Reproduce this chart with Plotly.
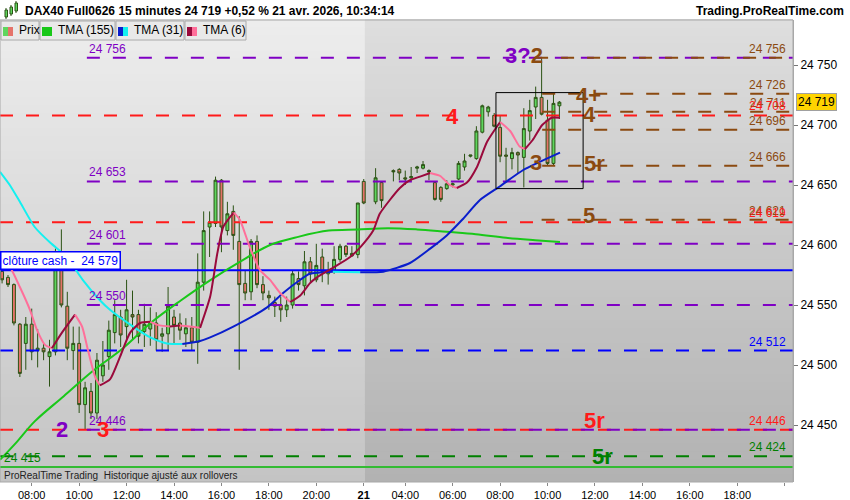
import plotly.graph_objects as go

# bar index: 0 = 20 avr. 08:00, one step = 15 min, 56 = first bar of the 21st
bar_idx = list(range(-5, 57)) + [58, 59] + list(range(61, 90))
opens = [24578, 24573, 24567, 24534, 24518, 24534, 24512, 24514, 24507, 24511,
         24593, 24549, 24512, 24518, 24467, 24478, 24460, 24491, 24507, 24527,
         24540, 24532, 24542, 24542, 24528, 24530, 24535, 24524, 24526, 24540,
         24535, 24526, 24531, 24519, 24569, 24615, 24618, 24654, 24612, 24628,
         24603, 24568, 24561, 24603, 24567, 24558, 24552, 24550, 24546, 24550,
         24572, 24566, 24586, 24571, 24590, 24576, 24579, 24588, 24599, 24591,
         24592, 24653, 24636, 24652, 24662, 24663, 24656, 24656, 24664, 24664,
         24662, 24652, 24648, 24647, 24650, 24655, 24665, 24674, 24672, 24694,
         24711, 24708, 24698, 24675, 24672, 24677, 24673, 24695, 24715, 24723,
         24704, 24668, 24716]
highs = [24584, 24575, 24568, 24535, 24540, 24547, 24530, 24518, 24521, 24597,
         24613, 24561, 24532, 24532, 24486, 24485, 24510, 24520, 24537, 24554,
         24546, 24571, 24562, 24546, 24551, 24548, 24544, 24531, 24565, 24546,
         24543, 24539, 24540, 24593, 24628, 24628, 24657, 24655, 24636, 24633,
         24624, 24579, 24605, 24608, 24574, 24562, 24557, 24557, 24557, 24579,
         24578, 24595, 24590, 24601, 24597, 24586, 24599, 24601, 24600, 24599,
         24635, 24655, 24664, 24653, 24663, 24664, 24662, 24665, 24666, 24670,
         24663, 24653, 24649, 24654, 24652, 24670, 24676, 24675, 24699, 24717,
         24716, 24710, 24708, 24681, 24681, 24678, 24714, 24721, 24732, 24756,
         24721, 24726, 24720]
lows = [24568, 24565, 24533, 24490, 24496, 24504, 24498, 24504, 24482, 24508,
        24548, 24504, 24496, 24460, 24446, 24455, 24455, 24486, 24496, 24518,
        24515, 24521, 24521, 24518, 24515, 24516, 24512, 24511, 24512, 24518,
        24521, 24515, 24512, 24501, 24562, 24590, 24615, 24594, 24608, 24596,
        24496, 24554, 24554, 24564, 24554, 24546, 24540, 24536, 24540, 24547,
        24562, 24558, 24569, 24569, 24569, 24567, 24576, 24586, 24590, 24590,
        24589, 24634, 24634, 24631, 24653, 24654, 24650, 24653, 24660, 24663,
        24654, 24637, 24636, 24646, 24648, 24654, 24662, 24673, 24671, 24693,
        24707, 24698, 24669, 24652, 24663, 24660, 24648, 24687, 24705, 24708,
        24666, 24666, 24705]
closes = [24571, 24567, 24535, 24493, 24534, 24511, 24514, 24511, 24511, 24593,
          24550, 24514, 24518, 24467, 24481, 24460, 24504, 24500, 24529, 24542,
          24525, 24546, 24540, 24524, 24534, 24535, 24521, 24526, 24549, 24533,
          24529, 24531, 24519, 24569, 24612, 24619, 24654, 24615, 24626, 24608,
          24567, 24560, 24603, 24567, 24560, 24556, 24549, 24546, 24550, 24576,
          24567, 24586, 24576, 24583, 24578, 24578, 24588, 24599, 24592, 24593,
          24635, 24635, 24656, 24637, 24661, 24660, 24655, 24657, 24665, 24667,
          24661, 24638, 24638, 24651, 24651, 24668, 24670, 24675, 24695, 24716,
          24715, 24699, 24674, 24674, 24677, 24675, 24697, 24712, 24723, 24709,
          24668, 24718, 24719]

# triangular moving averages
tma155_idx = [-5.35, -2.5, 0.5, 5.4, 10.3, 15.4, 20.3, 25.2, 30.2, 35.1, 40.2,
              45.1, 50.1, 55.0, 60.1, 65.0, 70.0, 74.9, 80.0, 84.9, 89.1]
tma155 = [24421, 24436, 24453, 24474, 24495, 24514, 24536, 24554, 24571, 24586,
          24600, 24607, 24612, 24613, 24614, 24613, 24611, 24609, 24606, 24604,
          24602.5]
tma31_idx = [-5.35, -3.7, -2.0, 0.5, 3.1, 5.9, 8.6, 11.5, 13.2, 17.1, 20.0,
             22.8, 25.4, 28.4, 30.1, 34.0, 39.7, 42.4, 45.3, 46.9, 50.8, 52.8,
             55.4, 59.3, 63.8, 67.2, 70.0, 72.6, 75.6, 79.0, 82.9, 89.1]
tma31 = [24661, 24650, 24636, 24615, 24602, 24590, 24571, 24554, 24546, 24532,
         24523, 24518, 24517.5, 24520, 24523, 24532, 24548, 24560, 24571, 24576,
         24577.8, 24577.5, 24577.2, 24577.8, 24585, 24597, 24608, 24621, 24637.5,
         24649, 24662.5, 24677]
tma6_idx = [-5.35, -3.7, -2.0, -0.3, 0.9, 2.2, 3.4, 5.1, 7.3, 8.5, 9.5, 10.7,
            11.5, 13.2, 14.9, 16.6, 18.3, 20.0, 21.6, 23.3, 25.0, 26.7, 28.4,
            30.1, 31.3, 32.3, 33.4, 34.1, 35.1, 36.8, 38.5, 40.2, 41.9, 43.6,
            45.3, 46.9, 48.1, 50.8, 53.7, 55.4, 57.6, 58.7, 60.4, 62.1, 63.8,
            65.5, 67.2, 68.9, 70.5, 71.7, 73.4, 75.1, 76.8, 79.0, 80.7, 82.3,
            83.2, 84.5, 86.1, 87.7, 89.1]
tma6 = [24590, 24582, 24565, 24546, 24529, 24517, 24514, 24527, 24542, 24532,
        24512, 24490, 24483, 24488, 24507, 24527, 24535, 24536, 24533, 24532,
        24533, 24532, 24531, 24557, 24593, 24615, 24623, 24627, 24621, 24598,
        24579, 24571, 24560, 24552.5, 24558, 24568, 24573, 24581, 24590, 24598,
        24612, 24626, 24637.5, 24647.5, 24654, 24657, 24660, 24657.5, 24650,
        24647.5, 24652, 24665, 24686, 24702.5, 24695, 24682, 24680, 24687.5,
        24700, 24706, 24706]

# axes
tick_idx = [0, 8, 16, 24, 32, 40, 48, 56, 63, 71, 79, 87, 95, 103, 111, 119, 127]
tick_text = ["08:00", "10:00", "12:00", "14:00", "16:00", "18:00", "20:00",
             "<b>21</b>", "04:00", "06:00", "08:00", "10:00", "12:00", "14:00",
             "16:00", "18:00", ""]
price_ticks = [24450, 24500, 24550, 24600, 24650, 24700, 24750]
day_split = 56.2

# horizontal levels
red_levels = [24708, 24619, 24446]
purple_levels = [24756, 24653, 24601, 24550, 24446]
purple_start = 9.3
brown_levels = [24756, 24726, 24711, 24696, 24666, 24621]
brown_start = [84.9, 86.1, 86.1, 86.1, 86.1, 86.0]
blue_level = 24512
cash_close = 24579
green_dash_level = 24424
green_solid_level = 24415
last_price = 24719

zone_idx = [78.3, 93.0]
zone_price = [24647, 24727]

# wave labels: text, bar index, price, colour key
wave_labels = [
    ("4", 71.0, 24707.5, "red"),
    ("4+", 93.9, 24724.6, "brown"),
    ("4", 94.0, 24708.8, "brown"),
    ("5r", 95.0, 24668, "brown"),
    ("3", 85.0, 24669, "brown"),
    ("5", 94.0, 24625, "brown"),
    ("2", 5.1, 24446, "purple"),
    ("3", 12.0, 24446, "red"),
    ("5r", 95.0, 24454, "red"),
    ("5r", 96.2, 24424, "green"),
]

X_LO, X_HI = -5.35, 128.4
Y_LO, Y_HI = 24402.5, 24787.5

COL = {"red": "#ff1a1a", "purple": "#7f00c4", "brown": "#8b4a10",
       "blue": "#0000ff", "green": "#008000"}
FONT = "Liberation Sans, Arial, sans-serif"
BOLD = "Liberation Sans Narrow, Liberation Sans, Arial, sans-serif"


def px(v):
    return v / 793


def py(v):
    return (482 - v) / 462


def fmt(v):
    return f"{v:,}".replace(",", " ")


def mix(c0, c1, t):
    return "rgb(%d,%d,%d)" % tuple(round(a + (b - a) * t) for a, b in zip(c0, c1))


fig = go.Figure()


def hline(level, color, start=X_LO, dash="13px,13px", width=2):
    fig.add_trace(go.Scatter(x=[start, X_HI], y=[level, level], mode="lines",
                             line=dict(color=color, width=width, dash=dash),
                             hoverinfo="skip"))


for lv in red_levels:
    hline(lv, COL["red"])
for lv in purple_levels:
    hline(lv, COL["purple"], start=purple_start)
for lv, st in zip(brown_levels, brown_start):
    hline(lv, COL["brown"], start=st)
hline(blue_level, COL["blue"])
hline(green_dash_level, COL["green"])
hline(green_solid_level, "#33bb33", dash="solid")
hline(cash_close, COL["blue"], dash="solid")

fig.add_trace(go.Candlestick(
    x=bar_idx, open=opens, high=highs, low=lows, close=closes,
    increasing=dict(line=dict(color="#2b5214", width=1), fillcolor="#5ed65e"),
    decreasing=dict(line=dict(color="#2b5214", width=1), fillcolor="#e5736a"),
    whiskerwidth=0, hoverinfo="skip"))


def split_by_direction(xs, ys):
    segs = []
    cx, cy, up = [xs[0], xs[1]], [ys[0], ys[1]], ys[1] >= ys[0]
    for i in range(2, len(xs)):
        u = ys[i] >= ys[i - 1]
        if u == up:
            cx.append(xs[i])
            cy.append(ys[i])
        else:
            segs.append((up, cx, cy))
            cx, cy, up = [xs[i - 1], xs[i]], [ys[i - 1], ys[i]], u
    segs.append((up, cx, cy))
    return segs


fig.add_trace(go.Scatter(x=tma155_idx, y=tma155, mode="lines",
                         line=dict(color="#19c819", width=2, shape="spline"),
                         hoverinfo="skip"))
for xs, ys, up_col, dn_col in [(tma31_idx, tma31, "#0a1ecc", "#14f0f0"),
                                (tma6_idx, tma6, "#9a0a3c", "#ff6f9a")]:
    for up, sx, sy in split_by_direction(xs, ys):
        fig.add_trace(go.Scatter(x=sx, y=sy, mode="lines",
                                 line=dict(color=up_col if up else dn_col, width=2,
                                           shape="spline", smoothing=0.6),
                                 hoverinfo="skip"))

# box around the current zone
fig.add_trace(go.Scatter(
    x=[zone_idx[0], zone_idx[1], zone_idx[1], zone_idx[0], zone_idx[0]],
    y=[zone_price[0], zone_price[0], zone_price[1], zone_price[1], zone_price[0]],
    mode="lines", line=dict(color="black", width=1), hoverinfo="skip"))

ann = []
# right hand level labels
for lv in brown_levels:
    ann.append(dict(x=0.994, xref="paper", y=lv, xanchor="right", yanchor="bottom",
                    text=fmt(lv), font=dict(color=COL["brown"], size=12)))
for lv in red_levels:
    ann.append(dict(x=0.994, xref="paper", y=lv, xanchor="right", yanchor="bottom",
                    text=fmt(lv), font=dict(color=COL["red"], size=12)))
ann.append(dict(x=0.994, xref="paper", y=blue_level, xanchor="right", yanchor="bottom",
                text=fmt(blue_level), font=dict(color=COL["blue"], size=12)))
ann.append(dict(x=0.994, xref="paper", y=green_dash_level, xanchor="right",
                yanchor="bottom", text=fmt(green_dash_level),
                font=dict(color=COL["green"], size=12)))
# left labels
for lv in purple_levels:
    ann.append(dict(x=purple_start, y=lv, xanchor="left", yanchor="bottom",
                    text=fmt(lv), font=dict(color=COL["purple"], size=12)))
ann.append(dict(x=0.003, xref="paper", y=green_solid_level, xanchor="left",
                yanchor="bottom", text=fmt(green_solid_level),
                font=dict(color=COL["green"], size=12)))
ann.append(dict(x=0, xref="paper", y=cash_close, xanchor="left", yanchor="bottom",
                text="clôture cash -\u00a0 " + fmt(cash_close),
                font=dict(color=COL["blue"], size=12), bgcolor="white",
                bordercolor=COL["blue"], borderwidth=1.5, borderpad=1))
# wave labels
for txt, xi, pr, ck in wave_labels:
    ann.append(dict(x=xi, y=pr, text=f"<b>{txt}</b>", xanchor="center",
                    yanchor="middle",
                    font=dict(color=COL[ck], size=22, family=BOLD)))
ann.append(dict(x=83.1, y=24758, xanchor="center", yanchor="middle",
                text=f"<b><span style='color:{COL['purple']}'>3?</span>"
                     f"<span style='color:{COL['brown']}'>2</span></b>",
                font=dict(size=22, family=BOLD)))
# last price tag
ann.append(dict(x=1.004, xref="paper", y=last_price, xanchor="left",
                yanchor="middle", text=fmt(last_price),
                font=dict(color="black", size=12), bgcolor="#ffd400",
                bordercolor="#a0a0a0", borderwidth=1, borderpad=1))
# header and footer
ann.append(dict(x=px(23), y=py(11), xref="paper", yref="paper", xanchor="left",
                yanchor="middle",
                text="<b>DAX40 Full0626 15 minutes 24 719 +0,52 % 21 avr. 2026, 10:34:14</b>",
                font=dict(size=12, color="black")))
ann.append(dict(x=px(846), y=py(11), xref="paper", yref="paper", xanchor="right",
                yanchor="middle", text="<b>Trading.ProRealTime.com</b>",
                font=dict(size=12, color="black")))
ann.append(dict(x=px(2), y=py(475), xref="paper", yref="paper", xanchor="left",
                yanchor="middle",
                text="ProRealTime Trading\u00a0 Historique ajusté aux rollovers",
                font=dict(size=10, color="#222222")))

shapes = []
# background: two sessions, each with a vertical grey gradient (thin bands)
n_bands = 60
for x0, x1, bottom, top in [(X_LO, day_split, (196, 196, 196), (237, 237, 237)),
                            (day_split, X_HI, (178, 178, 178), (222, 222, 222))]:
    for k in range(n_bands):
        shapes.append(dict(type="rect", xref="x", yref="paper", layer="below",
                           x0=x0, x1=x1, y0=k / n_bands, y1=(k + 1) / n_bands + 0.002,
                           line=dict(width=0),
                           fillcolor=mix(bottom, top, (k + 0.5) / n_bands)))

# legend boxes
legend_items = [("Prix", 1, 39, ["#5ed65e", "#e5736a"]),
                ("TMA (155)", 40, 115, ["#19c819", "#19c819"]),
                ("TMA (31)", 116, 184, ["#0a1ecc", "#14f0f0"]),
                ("TMA (6)", 185, 246, ["#9a0a3c", "#ff6f9a"])]
for name, x0, x1, cols in legend_items:
    shapes.append(dict(type="rect", xref="paper", yref="paper",
                       x0=px(x0), x1=px(x1), y0=py(40), y1=py(21),
                       line=dict(color="#aaaaaa", width=1), fillcolor="#e9e9e9"))
    shapes.append(dict(type="rect", xref="paper", yref="paper",
                       x0=px(x0 + 2), x1=px(x0 + 7), y0=py(36), y1=py(27),
                       line=dict(width=0), fillcolor=cols[0]))
    shapes.append(dict(type="rect", xref="paper", yref="paper",
                       x0=px(x0 + 7), x1=px(x0 + 12), y0=py(36), y1=py(27),
                       line=dict(width=0), fillcolor=cols[1]))
    ann.append(dict(x=px(x0 + 16), y=py(30.5), xref="paper", yref="paper",
                    xanchor="left", yanchor="middle", text=name,
                    font=dict(size=12, color="black")))
# small candle icon in the header
for cx0, ylo, yhi in [(5, 10, 17), (10, 7, 14), (15, 3, 11)]:
    shapes.append(dict(type="line", xref="paper", yref="paper",
                       x0=px(cx0 + 1), x1=px(cx0 + 1), y0=py(yhi + 2), y1=py(ylo - 2),
                       line=dict(color="#2b5214", width=1)))
    shapes.append(dict(type="rect", xref="paper", yref="paper",
                       x0=px(cx0), x1=px(cx0 + 2.5), y0=py(yhi), y1=py(ylo),
                       line=dict(color="#2b5214", width=1), fillcolor="#5ed65e"))
# plot frame
shapes.append(dict(type="rect", xref="paper", yref="paper", x0=0, x1=1, y0=0, y1=1,
                   line=dict(color="#a8a8a8", width=1)))

for a in ann:
    a["showarrow"] = False

fig.update_layout(
    width=850, height=500,
    margin=dict(l=0, r=57, t=20, b=18),
    paper_bgcolor="white", plot_bgcolor="#d0d0d0",
    showlegend=False,
    font=dict(family=FONT, size=12, color="black"),
    xaxis=dict(type="linear", range=[X_LO, X_HI], showgrid=False, zeroline=False,
               tickvals=tick_idx, ticktext=tick_text, tickfont=dict(size=11),
               ticks="outside", ticklen=3, tickcolor="#888888",
               rangeslider=dict(visible=False), fixedrange=True),
    yaxis=dict(side="right", range=[Y_LO, Y_HI], showgrid=False, zeroline=False,
               tickvals=price_ticks, ticktext=[fmt(v) for v in price_ticks],
               ticks="outside", ticklen=4, tickcolor="#777777",
               showline=True, linecolor="#a8a8a8", fixedrange=True),
    annotations=ann, shapes=shapes,
)

fig.write_html("out.html", config={"displayModeBar": False},
               post_script="document.body.style.margin='0';")
